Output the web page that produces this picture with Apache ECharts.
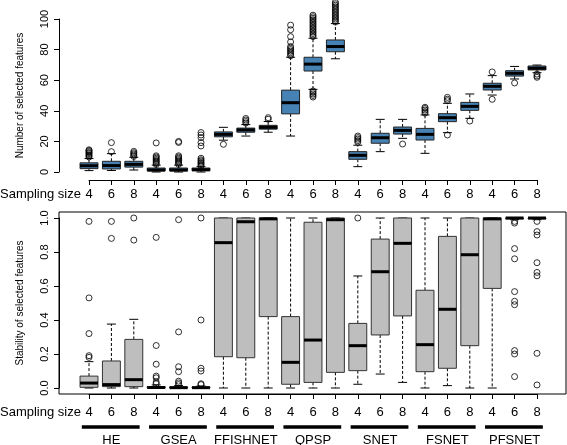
<!DOCTYPE html>
<html>
<head>
<meta charset="utf-8">
<script src="https://cdn.jsdelivr.net/npm/echarts@6/dist/echarts.min.js"></script>
<style>
html,body{margin:0;padding:0;background:#fff;}
#c{width:567px;height:445px;}
</style>
</head>
<body>
<div id="c"></div>
<script>
const methods = ['HE', 'GSEA', 'FFISHNET', 'QPSP', 'SNET', 'FSNET', 'PFSNET'];
const sampleSizes = [4, 6, 8];
const countTicks = [0, 20, 40, 60, 80, 100];
const stabTicks = [0, 0.2, 0.4, 0.6, 0.8, 1.0];

// Number of selected features: [lower whisker, Q1, median, Q3, upper whisker]
const countStats = [
  [0.9, 2.2, 4.1, 6.0, 8.8],
  [1.0, 2.0, 4.2, 7.0, 12.0],
  [1.3, 3.2, 5.0, 7.0, 9.6],
  [0.0, 0.7, 1.3, 2.6, 4.5],
  [0.0, 0.7, 1.3, 2.6, 4.5],
  [0.0, 0.8, 1.5, 2.6, 3.5],
  [20.8, 23.0, 24.6, 26.2, 29.2],
  [23.5, 26.0, 27.5, 28.7, 31.0],
  [26.0, 28.0, 29.2, 30.5, 33.0],
  [23.5, 38.0, 45.3, 53.5, 75.0],
  [54.0, 66.0, 70.5, 75.0, 87.4],
  [74.0, 78.6, 82.0, 86.3, 97.0],
  [3.5, 8.3, 10.9, 13.3, 17.5],
  [13.3, 18.8, 22.4, 25.3, 34.4],
  [22.0, 24.8, 27.2, 29.4, 34.4],
  [12.2, 20.9, 24.6, 28.5, 37.3],
  [25.7, 32.9, 35.5, 38.1, 44.9],
  [35.1, 40.3, 42.9, 45.5, 51.0],
  [50.3, 53.6, 56.0, 58.0, 63.0],
  [60.8, 62.7, 64.5, 66.2, 69.0],
  [64.9, 66.7, 67.8, 69.3, 69.9]
];
const countOutliers = [
  [9.8, 10.5, 11.2, 12.0, 12.6, 13.3, 14.0, 14.5],
  [13.3, 19.2],
  [10.2, 11.0, 11.8, 12.6, 13.5],
  [5.0, 5.8, 6.6, 7.4, 8.2, 9.0, 9.8, 10.6, 19.0],
  [5.0, 5.8, 6.6, 7.4, 8.2, 9.0, 9.8, 10.6, 19.3, 20.0],
  [4.0, 4.8, 5.6, 6.4, 7.2, 8.0, 9.0, 17.0, 19.2, 22.5, 24.2, 25.8],
  [18.1],
  [32.0, 33.0, 34.0, 35.0],
  [34.5, 35.5],
  [76.0, 77.0, 78.0, 79.0, 80.0, 81.0, 82.0, 85.0, 88.5, 93.0, 96.0],
  [49.0, 50.0, 51.0, 52.0, 53.0, 88.5, 89.5, 90.5, 91.5, 92.5, 93.5, 94.5, 95.5, 96.5, 97.5, 98.5, 99.5, 100.5, 101.5, 102.5],
  [98.0, 99.0, 100.0, 101.0, 102.0, 103.0, 104.0, 105.0, 106.0, 107.0, 108.0, 109.0, 110.0, 111.0],
  [19.5, 20.5, 21.5, 22.5, 23.5],
  [],
  [18.3],
  [38.5, 39.5, 40.5, 41.5, 42.3],
  [24.2, 46.6, 47.6, 48.8],
  [33.3],
  [47.5, 65.4],
  [58.2],
  [61.9, 62.8, 64.0]
];

// Stability of selected features: [lower whisker, Q1, median, Q3, upper whisker]
const stabStats = [
  [0.0, 0.004, 0.029, 0.07, 0.155],
  [0.0, 0.008, 0.020, 0.159, 0.376],
  [0.0, 0.008, 0.049, 0.286, 0.404],
  [0.0, 0.0, 0.003, 0.008, 0.018],
  [0.0, 0.0, 0.002, 0.006, 0.014],
  [0.0, 0.0, 0.002, 0.006, 0.012],
  [0.0, 0.184, 0.855, 1.0, 1.0],
  [0.0, 0.178, 0.978, 1.0, 1.0],
  [0.0, 0.420, 0.995, 1.0, 1.0],
  [0.0, 0.022, 0.151, 0.420, 1.0],
  [0.0, 0.033, 0.282, 0.975, 1.0],
  [0.0, 0.092, 0.990, 1.0, 1.0],
  [0.022, 0.102, 0.249, 0.380, 0.659],
  [0.082, 0.312, 0.684, 0.876, 1.0],
  [0.033, 0.424, 0.851, 1.0, 1.0],
  [0.0, 0.096, 0.255, 0.575, 1.0],
  [0.014, 0.116, 0.463, 0.892, 1.0],
  [0.0, 0.249, 0.784, 1.0, 1.0],
  [0.0, 0.586, 0.995, 1.0, 1.0],
  [0.99, 0.995, 1.0, 1.0, 1.0],
  [0.99, 0.995, 1.0, 1.0, 1.0]
];
const stabOutliers = [
  [0.18, 0.19, 0.32, 0.53, 0.98],
  [0.88, 0.98],
  [0.87, 1.0],
  [0.025, 0.035, 0.06, 0.07, 0.14, 0.25, 0.886],
  [0.02, 0.03, 0.04, 0.096, 0.125, 0.33, 0.99],
  [0.02, 0.025, 0.10, 0.116, 0.40, 1.0],
  [], [], [], [], [], [],
  [1.0],
  [], [], [], [], [], [],
  [0.98, 0.97, 0.82, 0.76, 0.567, 0.51, 0.49, 0.22, 0.20, 0.067],
  [0.98, 0.92, 0.90, 0.737, 0.68, 0.66, 0.204, 0.018]
];

const FONT = '"Liberation Sans", Arial, Helvetica, sans-serif';

function boxRenderer(fill, border) {
  return function (params, api) {
    const x = api.value(0);
    const lo = api.coord([x, api.value(1)]);
    const q1 = api.coord([x, api.value(2)]);
    const md = api.coord([x, api.value(3)]);
    const q3 = api.coord([x, api.value(4)]);
    const hi = api.coord([x, api.value(5)]);
    const hw = api.size([0.8, 0])[0] / 2;
    const cw = api.size([0.4, 0])[0] / 2;
    const cx = lo[0];
    const dash = { stroke: '#000', lineWidth: 1, lineDash: [3, 2] };
    const solid = { stroke: '#000', lineWidth: 1 };
    return {
      type: 'group',
      children: [
        { type: 'line', shape: { x1: cx, y1: q3[1], x2: cx, y2: hi[1] }, style: dash },
        { type: 'line', shape: { x1: cx, y1: q1[1], x2: cx, y2: lo[1] }, style: dash },
        { type: 'line', shape: { x1: cx - cw, y1: hi[1], x2: cx + cw, y2: hi[1] }, style: solid },
        { type: 'line', shape: { x1: cx - cw, y1: lo[1], x2: cx + cw, y2: lo[1] }, style: solid },
        { type: 'rect', shape: { x: cx - hw, y: q3[1], width: 2 * hw, height: q1[1] - q3[1] },
          style: { fill: fill, stroke: border, lineWidth: 1 } },
        { type: 'line', shape: { x1: cx - hw, y1: md[1], x2: cx + hw, y2: md[1] },
          style: { stroke: '#000', lineWidth: 3 } }
      ]
    };
  };
}

function groupRenderer(params, api) {
  const s = api.value(0), e = api.value(1);
  const p0 = api.coord([s - 0.32, 0]);
  const p1 = api.coord([e + 0.26, 0]);
  const y = p0[1];
  return {
    type: 'group',
    children: [
      { type: 'line', shape: { x1: p0[0], y1: y + 33, x2: p1[0], y2: y + 33 },
        style: { stroke: '#000', lineWidth: 3.5 } },
      { type: 'text', x: (api.coord([(s + e) / 2, 0])[0]), y: y + 46,
        style: { text: methods[params.dataIndex], fill: '#000', font: '13px ' + FONT,
                 align: 'center', verticalAlign: 'middle' } }
    ]
  };
}

const statData = (stats) => stats.map((s, i) => [i + 1].concat(s));
const outData = (outs) => outs.flatMap((arr, i) => arr.map(v => [i + 1, v]));
const groupData = methods.map((m, g) => [g * sampleSizes.length + 1, g * sampleSizes.length + sampleSizes.length]);
const nBoxes = methods.length * sampleSizes.length;

const hiddenAxis = (gi, min, max) => ({ type: 'value', gridIndex: gi, min: min, max: max, show: false });

const xDeco = (gi, margin) => ({
  type: 'value', gridIndex: gi, min: 1, max: nBoxes, interval: 1,
  axisLine: { show: true, lineStyle: { color: '#000', width: 1 } },
  axisTick: { show: true, length: 5, lineStyle: { color: '#000' } },
  splitLine: { show: false },
  axisLabel: { show: true, margin: margin, color: '#000', fontSize: 13, fontFamily: FONT,
    showMinLabel: true, showMaxLabel: true,
    formatter: v => String(sampleSizes[(Math.round(v) - 1) % sampleSizes.length]) }
});

const yDeco = (gi, ticks, name, digits) => ({
  type: 'value', gridIndex: gi, min: ticks[0], max: ticks[ticks.length - 1],
  interval: ticks[1] - ticks[0],
  axisLine: { show: true, lineStyle: { color: '#000', width: 1 } },
  axisTick: { show: true, length: 5, lineStyle: { color: '#000' } },
  splitLine: { show: false },
  axisLabel: { show: true, rotate: 90, margin: 9, color: '#000', fontSize: 11, fontFamily: FONT,
    formatter: v => digits ? v.toFixed(digits) : String(v) },
  name: name, nameLocation: 'middle', nameGap: 34, nameRotate: 90,
  nameTextStyle: { color: '#000', fontSize: 10, fontFamily: FONT }
});

const chart = echarts.init(document.getElementById('c'), null, { renderer: 'canvas' });
chart.setOption({
  animation: false,
  backgroundColor: '#fff',
  grid: [
    { left: 59, top: 0, width: 507, height: 180 },
    { left: 59, top: 19, width: 10, height: 153 },
    { left: 89, top: 170, width: 448, height: 10 },
    { left: 59, top: 212, width: 507, height: 182, show: true, borderColor: '#000', borderWidth: 1, backgroundColor: 'transparent' },
    { left: 59, top: 218, width: 10, height: 170 },
    { left: 89, top: 384, width: 448, height: 10 }
  ],
  xAxis: [
    hiddenAxis(0, 1 - 30 / 22.4, nBoxes + 29 / 22.4),
    hiddenAxis(1, 0, 1),
    xDeco(2, 8),
    hiddenAxis(3, 1 - 30 / 22.4, nBoxes + 29 / 22.4),
    hiddenAxis(4, 0, 1),
    xDeco(5, 12)
  ],
  yAxis: [
    hiddenAxis(0, -8 / 1.53, 172 / 1.53),
    yDeco(1, countTicks, 'Number of selected features', 0),
    hiddenAxis(2, 0, 1),
    hiddenAxis(3, -6 / 170, 1 + 6 / 170),
    yDeco(4, stabTicks, 'Stability of selected features', 1),
    hiddenAxis(5, 0, 1)
  ],
  graphic: [
    { type: 'text', left: 0, top: 188, style: { text: 'Sampling size', fill: '#000', font: '13px ' + FONT } },
    { type: 'text', left: 0, top: 406, style: { text: 'Sampling size', fill: '#000', font: '13px ' + FONT } }
  ],
  series: [
    { type: 'custom', xAxisIndex: 0, yAxisIndex: 0, renderItem: boxRenderer('#4682b4', '#222'),
      data: statData(countStats), clip: false, silent: true },
    { type: 'scatter', xAxisIndex: 0, yAxisIndex: 0, data: outData(countOutliers), symbol: 'circle', symbolSize: 6,
      itemStyle: { color: 'rgba(0,0,0,0)', borderColor: '#000', borderWidth: 1 }, silent: true },
    { type: 'custom', xAxisIndex: 3, yAxisIndex: 3, renderItem: boxRenderer('#bebebe', '#333'),
      data: statData(stabStats), clip: false, silent: true },
    { type: 'scatter', xAxisIndex: 3, yAxisIndex: 3, data: outData(stabOutliers), symbol: 'circle', symbolSize: 6,
      itemStyle: { color: 'rgba(0,0,0,0)', borderColor: '#000', borderWidth: 1 }, silent: true },
    { type: 'custom', xAxisIndex: 5, yAxisIndex: 5, renderItem: groupRenderer,
      data: groupData, clip: false, silent: true }
  ]
});
</script>
</body>
</html>
